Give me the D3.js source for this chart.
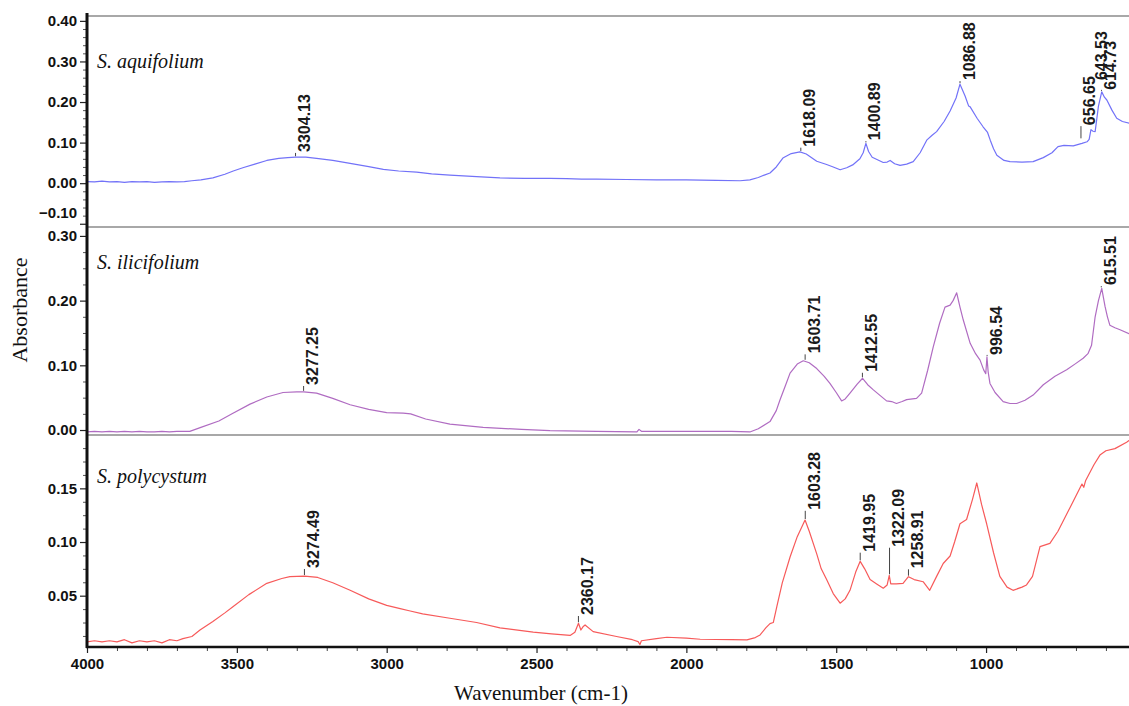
<!DOCTYPE html>
<html>
<head>
<meta charset="utf-8">
<script src="https://cdn.jsdelivr.net/npm/d3@7"></script>
<style>
  html, body { margin: 0; padding: 0; background: #fff; }
  svg { display: block; }
</style>
</head>
<body>
<svg id="chart" width="1129" height="706"></svg>
<script>
// ---------------- DATA ----------------
const xTickValues = [4000, 3500, 3000, 2500, 2000, 1500, 1000];
const sampleNames = ["S. aquifolium", "S. ilicifolium", "S. polycystum"];

// S. aquifolium (top)
const wnAqui = [4000,3975,3950,3925,3900,3875,3850,3825,3800,3775,3750,3725,3700,3675,3650,3620,3580,3540,3512,3480,3440,3400,3360,3330,3304,3270,3234,3180,3122,3060,3011,2960,2900,2850,2789,2700,2622,2540,2455,2400,2350,2300,2200,2100,2000,1900,1821,1788,1760,1740,1721,1700,1678,1650,1621,1600,1565,1532,1510,1487,1465,1445,1421,1410,1401,1392,1380,1343,1330,1320,1305,1287,1265,1243,1220,1198,1180,1165,1140,1120,1100,1087,1070,1058,1053,1030,1010,995,986,975,964,940,920,880,843,809,780,760,740,709,680,663,656,650,643,636,625,614,605,597,580,564,545,522,500];
const absAqui = [0.004,0.003,0.005,0.003,0.004,0.002,0.004,0.003,0.004,0.002,0.003,0.004,0.003,0.004,0.006,0.008,0.013,0.022,0.030,0.038,0.047,0.056,0.061,0.063,0.064,0.064,0.061,0.056,0.049,0.041,0.034,0.030,0.027,0.023,0.020,0.016,0.013,0.012,0.012,0.011,0.010,0.010,0.009,0.008,0.008,0.007,0.006,0.008,0.014,0.020,0.025,0.040,0.062,0.073,0.077,0.072,0.054,0.046,0.040,0.033,0.038,0.045,0.060,0.075,0.098,0.078,0.064,0.051,0.052,0.056,0.048,0.044,0.047,0.053,0.075,0.106,0.118,0.127,0.152,0.178,0.210,0.244,0.215,0.190,0.188,0.160,0.139,0.125,0.106,0.085,0.069,0.056,0.053,0.052,0.053,0.063,0.075,0.090,0.093,0.092,0.098,0.102,0.108,0.132,0.128,0.127,0.190,0.225,0.212,0.205,0.180,0.160,0.152,0.148,0.146];
const peaksAqui = [3304.13, 1618.09, 1400.89, 1086.88, 656.65, 643.53, 614.73];
const peakAbsAqui = [0.064, 0.077, 0.098, 0.244, 0.108, 0.248, 0.225];
const labelAbsAqui = [0.077, 0.090, 0.106, 0.254, 0.143, 0.254, 0.230];

// S. ilicifolium (middle)
const wnIlic = [4000,3975,3950,3925,3900,3875,3850,3825,3800,3775,3750,3725,3700,3657,3620,3560,3513,3456,3400,3346,3300,3277,3234,3180,3122,3060,3000,2945,2920,2870,2789,2678,2550,2455,2300,2165,2158,2150,2000,1850,1788,1760,1721,1700,1688,1670,1654,1630,1610,1590,1565,1540,1521,1500,1482,1470,1454,1430,1412,1395,1376,1350,1332,1315,1299,1280,1265,1232,1215,1195,1176,1155,1137,1120,1110,1098,1087,1076,1053,1035,1020,1008,1001,997,993,987,970,943,920,898,870,843,809,770,731,700,676,660,648,636,625,614,603,595,587,570,553,523,500];
const absIlic = [-0.003,-0.002,-0.003,-0.002,-0.003,-0.002,-0.003,-0.002,-0.003,-0.003,-0.002,-0.003,-0.002,-0.002,0.004,0.014,0.026,0.040,0.051,0.058,0.059,0.059,0.057,0.049,0.039,0.032,0.027,0.026,0.025,0.017,0.009,0.004,0.001,-0.001,-0.002,-0.003,0.001,-0.002,-0.002,-0.002,-0.003,0.002,0.013,0.030,0.046,0.068,0.088,0.102,0.107,0.104,0.095,0.083,0.072,0.058,0.045,0.048,0.057,0.071,0.080,0.070,0.062,0.052,0.045,0.044,0.041,0.044,0.047,0.049,0.057,0.092,0.129,0.165,0.190,0.193,0.200,0.212,0.190,0.170,0.134,0.118,0.108,0.093,0.087,0.113,0.090,0.072,0.058,0.044,0.041,0.041,0.046,0.054,0.070,0.083,0.093,0.103,0.111,0.118,0.131,0.175,0.200,0.219,0.191,0.175,0.162,0.158,0.155,0.149,0.146];
const peaksIlic = [3277.25, 1603.71, 1412.55, 996.54, 615.51];
const peakAbsIlic = [0.059, 0.107, 0.080, 0.113, 0.219];
const labelAbsIlic = [0.0696, 0.1185, 0.090, 0.116, 0.224];

// S. polycystum (bottom)
const wnPoly = [4000,3975,3950,3925,3900,3875,3850,3825,3800,3775,3750,3725,3700,3680,3650,3623,3580,3540,3512,3460,3400,3350,3323,3274,3230,3180,3122,3060,3000,2955,2925,2880,2789,2700,2622,2511,2450,2388,2372,2360,2352,2345,2338,2311,2233,2180,2161,2155,2150,2100,2065,2000,1954,1850,1798,1770,1754,1735,1721,1710,1698,1680,1654,1630,1604,1590,1565,1550,1532,1510,1487,1470,1454,1435,1420,1405,1387,1365,1343,1330,1323,1318,1300,1277,1259,1240,1210,1188,1165,1143,1120,1105,1087,1065,1045,1031,1015,998,975,954,930,910,880,865,845,820,787,760,720,680,674,668,640,620,600,570,531,510,500];
const absPoly = [0.007,0.008,0.007,0.008,0.007,0.009,0.006,0.008,0.007,0.008,0.006,0.009,0.008,0.010,0.012,0.018,0.026,0.034,0.040,0.051,0.0615,0.066,0.0677,0.0683,0.067,0.062,0.055,0.047,0.041,0.038,0.036,0.033,0.029,0.025,0.020,0.016,0.0145,0.013,0.016,0.0243,0.018,0.021,0.0227,0.0165,0.012,0.009,0.0072,0.0045,0.008,0.010,0.0113,0.0105,0.0094,0.009,0.0088,0.011,0.0134,0.020,0.024,0.025,0.040,0.062,0.086,0.105,0.1205,0.110,0.089,0.075,0.065,0.052,0.043,0.047,0.055,0.072,0.082,0.075,0.065,0.061,0.057,0.060,0.069,0.061,0.061,0.0615,0.0677,0.065,0.063,0.055,0.068,0.080,0.087,0.100,0.117,0.121,0.140,0.155,0.135,0.117,0.090,0.068,0.058,0.055,0.058,0.060,0.068,0.0957,0.0988,0.110,0.132,0.154,0.151,0.157,0.172,0.181,0.185,0.187,0.193,0.197,0.198];
const peaksPoly = [3274.49, 2360.17, 1603.28, 1419.95, 1322.09, 1258.91];
const peakAbsPoly = [0.0683, 0.0243, 0.1205, 0.082, 0.069, 0.0677];
const labelAbsPoly = [0.0758, 0.032, 0.130, 0.091, 0.0956, 0.0755];

// ---------------- CHART ----------------
const svg = d3.select("#chart");
const W = 1129, H = 706;
const left = 87, axisBottomY = 647;

const x = d3.scaleLinear().domain([4000, 500]).range([left, 1135.9]);

const panels = [
  { name: sampleNames[0], wn: wnAqui, ab: absAqui, peaks: peaksAqui, pAbs: peakAbsAqui, lAbs: labelAbsAqui,
    domain: [-0.108, 0.412], range: [227, 16], major: [-0.1, 0, 0.1, 0.2, 0.3, 0.4], minorStep: 0.02,
    color: "#7272f8", nameY: 68 },
  { name: sampleNames[1], wn: wnIlic, ab: absIlic, peaks: peaksIlic, pAbs: peakAbsIlic, lAbs: labelAbsIlic,
    domain: [-0.0077, 0.3138], range: [435, 227], major: [0, 0.1, 0.2, 0.3], minorStep: 0.025,
    color: "#b06cc2", nameY: 269 },
  { name: sampleNames[2], wn: wnPoly, ab: absPoly, peaks: peaksPoly, pAbs: peakAbsPoly, lAbs: labelAbsPoly,
    domain: [0.0022, 0.1997], range: [647, 435], major: [0.05, 0.10, 0.15], minorStep: 0.0125,
    color: "#f75a5a", nameY: 483 }
];

// label horizontal nudges where labels crowd together
const crowdedShift = { "656.65": -8 };

const defs = svg.append("defs");

panels.forEach((p, i) => {
  const y = d3.scaleLinear().domain(p.domain).range(p.range);

  defs.append("clipPath").attr("id", "clip" + i)
    .append("rect").attr("x", left).attr("y", p.range[1]).attr("width", W - left).attr("height", p.range[0] - p.range[1]);

  svg.append("line")
    .attr("x1", left).attr("x2", W).attr("y1", p.range[1]).attr("y2", p.range[1])
    .attr("stroke", "#a8a8a8").attr("stroke-width", 2);

  const minor = [];
  for (let v = Math.ceil(p.domain[0] / p.minorStep) * p.minorStep; v <= p.domain[1] + 1e-9; v += p.minorStep) {
    const r = Math.round(v * 10000) / 10000;
    if (!p.major.some(m => Math.abs(m - r) < 1e-6)) minor.push(r);
  }
  const gm = svg.append("g").attr("transform", `translate(${left},0)`)
    .call(d3.axisLeft(y).tickValues(minor).tickSize(4).tickFormat(""));
  gm.select(".domain").remove();
  gm.selectAll("line").attr("stroke", "#555").attr("stroke-width", 1);

  const gM = svg.append("g").attr("transform", `translate(${left},0)`)
    .call(d3.axisLeft(y).tickValues(p.major).tickSize(7).tickPadding(3).tickFormat(d3.format(".2f")));
  gM.select(".domain").remove();
  gM.selectAll("line").attr("stroke", "#222").attr("stroke-width", 1.2);
  gM.selectAll("text")
    .attr("font-family", "'Liberation Sans', Arial, sans-serif")
    .attr("font-weight", "bold").attr("font-size", 15).attr("fill", "#111")
    .attr("dy", d => (i === 0 && d < 0) ? "-0.1em" : "0.32em")
    .attr("transform", d => (i === 0 && d < 0) ? "translate(0,-5)" : null);

  const pts = p.wn.map((w, k) => [w, p.ab[k]]);
  const line = d3.line().x(d => x(d[0])).y(d => y(d[1]));
  svg.append("path")
    .datum(pts)
    .attr("clip-path", `url(#clip${i})`)
    .attr("fill", "none")
    .attr("stroke", p.color)
    .attr("stroke-width", 1.2)
    .attr("stroke-linejoin", "round")
    .attr("d", line);

  const lg = svg.append("g");
  p.peaks.forEach((pk, k) => {
    const key = pk.toFixed(2);
    const shift = crowdedShift[key] || 0;
    const px = x(pk);
    const y0 = y(p.pAbs[k]);
    const y1 = y(p.lAbs[k]);
    lg.append("line")
      .attr("x1", px + shift).attr("x2", px + shift).attr("y1", y0 - 1).attr("y2", Math.min(y0 - 2, y1 + 1))
      .attr("stroke", "#444").attr("stroke-width", 1);
    lg.append("text")
      .attr("transform", `translate(${px + 9 + shift},${y1}) rotate(-90)`)
      .attr("text-anchor", "start")
      .attr("dominant-baseline", "central")
      .attr("font-family", "'Liberation Sans', Arial, sans-serif")
      .attr("font-weight", "bold")
      .attr("font-size", 16)
      .attr("fill", "#1a1a1a")
      .text(key);
  });

  svg.append("text")
    .attr("x", 97).attr("y", p.nameY)
    .attr("font-family", "'Liberation Serif', 'Times New Roman', serif")
    .attr("font-style", "italic")
    .attr("font-size", 20)
    .attr("fill", "#111")
    .text(p.name);
});

// x axis
const xMinor = d3.range(4000, 499, -100).filter(v => v % 500 !== 0);
const gxm = svg.append("g").attr("transform", `translate(0,${axisBottomY})`)
  .call(d3.axisBottom(x).tickValues(xMinor).tickSize(4).tickFormat(""));
gxm.select(".domain").remove();
gxm.selectAll("line").attr("stroke", "#444");
const gx = svg.append("g").attr("transform", `translate(0,${axisBottomY})`)
  .call(d3.axisBottom(x).tickValues(xTickValues).tickSize(6).tickPadding(5).tickFormat(d3.format("d")));
gx.select(".domain").remove();
gx.selectAll("line").attr("stroke", "#222").attr("stroke-width", 1.2);
gx.selectAll("text")
  .attr("font-family", "'Liberation Sans', Arial, sans-serif")
  .attr("font-weight", "bold").attr("font-size", 15).attr("fill", "#111");

svg.append("line").attr("x1", left).attr("x2", left).attr("y1", 13).attr("y2", axisBottomY + 1)
  .attr("stroke", "#111").attr("stroke-width", 3);
svg.append("line").attr("x1", left - 1).attr("x2", W).attr("y1", axisBottomY).attr("y2", axisBottomY)
  .attr("stroke", "#111").attr("stroke-width", 2.5);

svg.append("text")
  .attr("x", 541).attr("y", 700)
  .attr("text-anchor", "middle")
  .attr("font-family", "'Liberation Serif', 'Times New Roman', serif")
  .attr("font-size", 21).attr("fill", "#111")
  .text("Wavenumber (cm-1)");
svg.append("text")
  .attr("transform", "translate(27,310) rotate(-90)")
  .attr("text-anchor", "middle")
  .attr("font-family", "'Liberation Serif', 'Times New Roman', serif")
  .attr("font-size", 22).attr("fill", "#111")
  .text("Absorbance");
</script>
</body>
</html>
